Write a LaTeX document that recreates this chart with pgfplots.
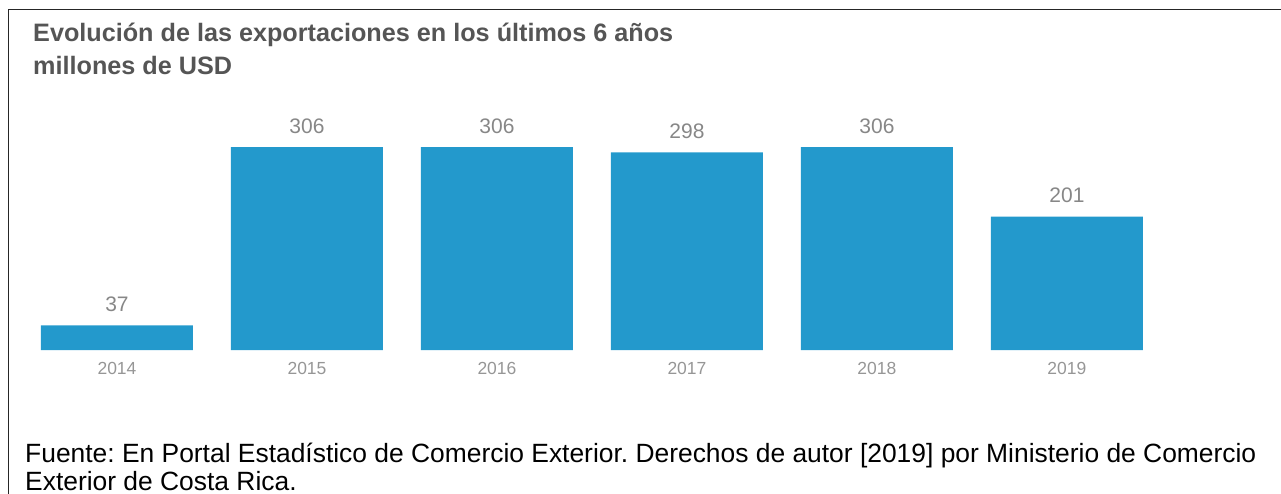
\documentclass[border=0pt]{standalone}
\usepackage{pgfplots}
\pgfplotsset{compat=1.18}
\usepackage{fontspec}
\setmainfont{Liberation Sans}
\definecolor{barblue}{RGB}{35,153,204}
\definecolor{titlegray}{RGB}{85,85,85}
\definecolor{labgray}{RGB}{135,135,135}
\definecolor{tickgray}{RGB}{150,150,150}
\frenchspacing
\begin{document}
\begin{tikzpicture}[x=1pt,y=1pt]
\useasboundingbox (0pt,0pt) rectangle (1281pt,-494pt);
\draw[line width=1.4pt,black!85] (8.7pt,-494pt) -- (8.7pt,-9.3pt) -- (1281pt,-9.3pt);
\node[anchor=base west,text=titlegray,font=\fontsize{25.2}{30}\selectfont\bfseries,inner sep=0] at (33pt,-42pt) {Evolución de las exportaciones en los últimos 6 años};
\node[anchor=base west,text=titlegray,font=\fontsize{25.2}{30}\selectfont\bfseries,inner sep=0] at (33pt,-75pt) {millones de USD};
\begin{axis}[
  at={(22pt,-350pt)}, anchor=south west,
  scale only axis, width=1140pt, height=250pt,
  xmin=-0.5, xmax=5.5, ymin=0, ymax=377,
  axis line style={draw=none},
  ytick=\empty,
  xtick={0,1,2,3,4,5},
  xticklabels={2014,2015,2016,2017,2018,2019},
  major tick length=0pt,
  x tick label style={text=tickgray,font=\fontsize{17.5}{20}\selectfont,yshift=-9pt},
  /pgf/number format/assume math mode=true,
  ybar, bar width=152pt,
  nodes near coords,
  every node near coord/.append style={text=labgray,font=\fontsize{21}{24}\selectfont,yshift=10pt},
  clip=false,
]
\addplot[fill=barblue,draw=none] coordinates {(0,37) (1,306) (2,306) (3,298) (4,306) (5,201)};
\end{axis}
\node[anchor=base west,text=black,font=\fontsize{26.4}{30}\selectfont,inner sep=0] at (25pt,-462pt) {Fuente: En Portal Estadístico de Comercio Exterior. Derechos de autor [2019] por Ministerio de Comercio};
\node[anchor=base west,text=black,font=\fontsize{26.4}{30}\selectfont,inner sep=0] at (25pt,-490pt) {Exterior de Costa Rica.};
\end{tikzpicture}
\end{document}
